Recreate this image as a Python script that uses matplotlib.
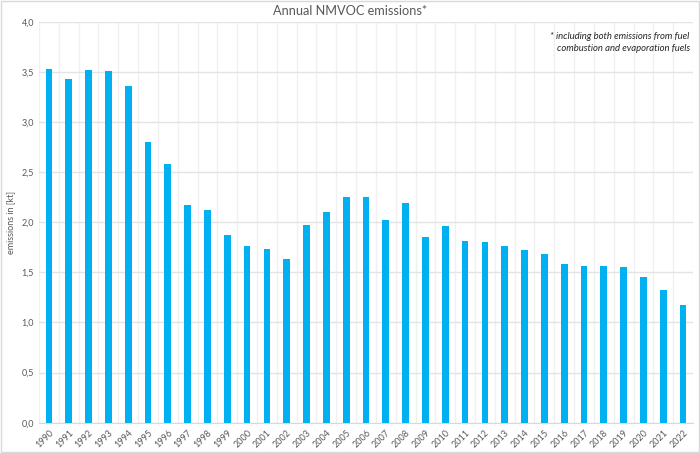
import numpy as np
from matplotlib import pyplot as plt
from matplotlib.patches import Rectangle
from matplotlib.ticker import FuncFormatter

years = [str(y) for y in range(1990, 2023)]
emissions = [3.53, 3.43, 3.52, 3.51, 3.36, 2.80, 2.58, 2.17, 2.12, 1.87,
             1.76, 1.73, 1.63, 1.97, 2.10, 2.25, 2.25, 2.02, 2.19, 1.85,
             1.96, 1.81, 1.80, 1.76, 1.72, 1.68, 1.58, 1.56, 1.56, 1.55,
             1.45, 1.32, 1.17]

plt.rcParams['font.family'] = ['Lato', 'DejaVu Sans']

fig = plt.figure(figsize=(7, 4.53), dpi=100)
ax = fig.add_axes([0.0557, 0.0669, 0.9343, 0.8851])

x = np.arange(len(years))
ax.bar(x, emissions, width=0.34, color='#00B0F0', zorder=3)

ax.set_xlim(-0.5, len(years) - 0.5)
ax.set_ylim(0, 4)
ax.set_yticks(np.arange(0, 4.01, 0.5))
ax.yaxis.set_major_formatter(FuncFormatter(lambda v, p: f'{v:.1f}'.replace('.', ',')))
ax.set_xticks(x)
ax.set_xticklabels(years, rotation=45, ha='right', va='top', rotation_mode='anchor')
ax.set_xticks(np.arange(-0.5, len(years), 1), minor=True)

ax.grid(axis='y', which='major', color='#E4E4E4', linewidth=1, zorder=0)
ax.grid(axis='x', which='minor', color='#F0F0F0', linewidth=1, zorder=0)
ax.tick_params(axis='both', which='both', length=0, labelsize=6.5, labelcolor='#595959')
ax.tick_params(axis='x', pad=4)
for s in ['top', 'right', 'left']:
    ax.spines[s].set_visible(False)
ax.spines['bottom'].set_color('#D9D9D9')

ax.set_ylabel('emissions in [kt]', fontsize=6.5, color='#595959')
ax.yaxis.set_label_coords(-0.036, 0.5)
fig.text(0.5, 0.975, 'Annual NMVOC emissions*', ha='center', va='center',
         fontsize=9.2, color='#595959')
ax.text(0.995, 0.975, '* including both emissions from fuel\ncombustion and evaporation fuels',
        transform=ax.transAxes, ha='right', va='top', fontsize=6.8,
        style='italic', color='#262626', linespacing=1.45)

fig.patches.append(Rectangle((0.002, 0.003), 0.996, 0.994, transform=fig.transFigure,
                             fill=False, edgecolor='#D9D9D9', linewidth=1))

fig.savefig('out.png', dpi=100)
